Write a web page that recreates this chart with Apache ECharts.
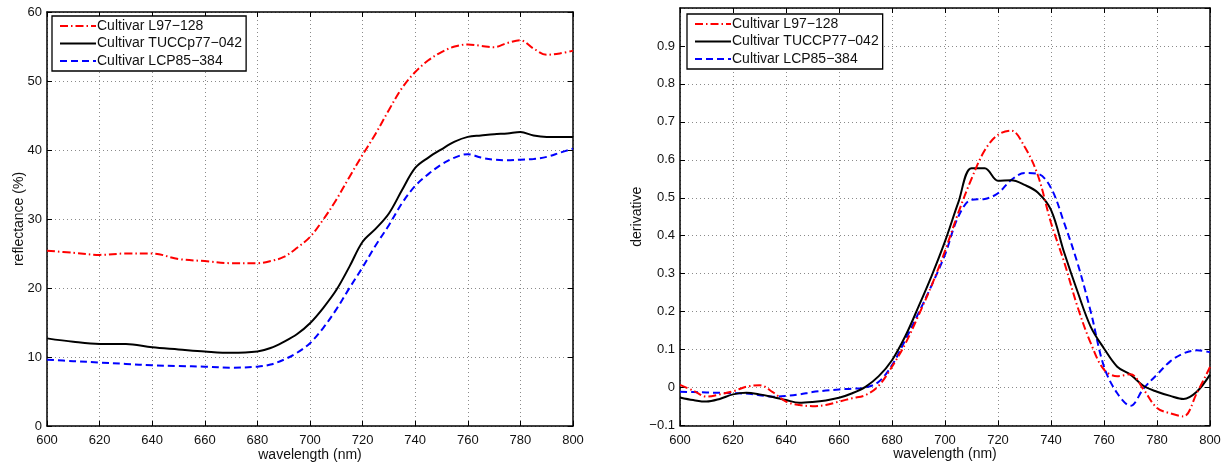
<!DOCTYPE html>
<html>
<head>
    <meta charset="utf-8">
    <title>Reflectance and derivative</title>
    <script src="https://cdn.jsdelivr.net/npm/echarts@6/dist/echarts.min.js"></script>
</head>
<body style="margin:0;background:#fff">
    <div id="main" style="width:1229px;height:465px;"></div>
    <script type="text/javascript">
        // wavelengths (nm)
        var wlLeft = [600, 610, 620, 630, 640, 650, 660, 670, 680,
            685, 690, 695, 700, 705, 710, 715, 720, 725, 730, 735, 740,
            745, 750, 755, 760, 765, 770, 775, 780, 785, 790, 795, 800];
        var wlRight = [];
        for (var w = 600; w <= 800; w += 5) wlRight.push(w);

        var names = ['Cultivar L97\u2212128', 'Cultivar TUCCp77\u2212042', 'Cultivar LCP85\u2212384'];
        var namesRight = ['Cultivar L97\u2212128', 'Cultivar TUCCP77\u2212042', 'Cultivar LCP85\u2212384'];

        // reflectance (%)
        var reflL97 = [25.4, 25.1, 24.8, 25.0, 25.0, 24.2, 23.9, 23.6, 23.6,
            23.9, 24.5, 25.8, 27.4, 29.9, 32.8, 36.1, 39.3, 42.4, 45.8, 49.0, 51.3,
            53.0, 54.2, 55.0, 55.3, 55.1, 54.9, 55.5, 55.9, 54.7, 53.8, 54.0, 54.4];
        var reflTUCC = [12.7, 12.2, 11.9, 11.9, 11.4, 11.1, 10.8, 10.6, 10.8,
            11.3, 12.2, 13.3, 14.9, 17.1, 19.7, 23.1, 26.7, 28.6, 30.8, 34.2, 37.4,
            38.9, 40.1, 41.2, 41.9, 42.1, 42.3, 42.4, 42.6, 42.1, 41.9, 41.9, 41.9];
        var reflLCP = [9.6, 9.4, 9.2, 9.0, 8.8, 8.7, 8.6, 8.45, 8.6,
            8.9, 9.6, 10.6, 12.0, 14.2, 16.9, 20.0, 23.0, 26.2, 29.1, 32.3, 34.8,
            36.5, 37.9, 38.9, 39.4, 38.9, 38.6, 38.5, 38.6, 38.7, 39.0, 39.6, 40.2];

        // first derivative
        var derL97 = [0.007, -0.008, -0.024, -0.018, -0.010, 0.002, 0.006, -0.012, -0.037, -0.046,
            -0.049, -0.046, -0.037, -0.028, -0.020, 0.005, 0.055, 0.115, 0.190, 0.270,
            0.360, 0.460, 0.550, 0.625, 0.666, 0.677, 0.635, 0.560, 0.434, 0.330,
            0.213, 0.117, 0.047, 0.030, 0.035, -0.006, -0.054, -0.068, -0.076, -0.015, 0.054];
        var derTUCC = [-0.026, -0.033, -0.037, -0.030, -0.018, -0.014, -0.018, -0.025, -0.033, -0.040,
            -0.038, -0.034, -0.027, -0.015, 0.002, 0.030, 0.072, 0.135, 0.213, 0.295,
            0.385, 0.487, 0.578, 0.578, 0.545, 0.546, 0.534, 0.514, 0.468, 0.355,
            0.253, 0.160, 0.103, 0.055, 0.034, 0.004, -0.011, -0.022, -0.030, -0.011, 0.034];
        var derLCP = [-0.011, -0.012, -0.013, -0.014, -0.015, -0.016, -0.020, -0.024, -0.022, -0.018,
            -0.012, -0.008, -0.005, -0.003, 0.000, 0.015, 0.059, 0.125, 0.196, 0.270,
            0.350, 0.450, 0.495, 0.497, 0.512, 0.547, 0.565, 0.563, 0.526, 0.433,
            0.328, 0.200, 0.055, -0.015, -0.048, -0.002, 0.034, 0.069, 0.090, 0.098, 0.093];

        var leftTicks = [0, 10, 20, 30, 40, 50, 60];
        var rightTicks = [-0.1, 0, 0.1, 0.2, 0.3, 0.4, 0.5, 0.6, 0.7, 0.8, 0.9];

        function pairs(xs, ys) {
            return xs.map(function (x, i) { return [x, ys[i]]; });
        }

        var font = 'Liberation Sans, Arial, Helvetica, sans-serif';
        var colors = ['#ff0000', '#000000', '#0000ff'];
        var dashes = [[8, 3, 1.5, 3], 'solid', [7, 4]];

        function xAx(grid, top) {
            return {
                type: 'value', gridIndex: grid, min: 600, max: 800, interval: 20,
                position: top ? 'top' : 'bottom',
                name: top ? '' : 'wavelength (nm)', nameLocation: 'middle', nameGap: 22,
                nameMoveOverlap: false,
                nameTextStyle: { fontFamily: font, fontSize: 14, color: '#111' },
                axisLine: { show: true, onZero: false, lineStyle: { color: '#000', width: 1.5 } },
                axisTick: { show: true, inside: true, length: 5, lineStyle: { color: '#000' } },
                axisLabel: { show: !top, margin: 8, fontFamily: font, fontSize: 13, color: '#111' },
                splitLine: { show: !top, lineStyle: { color: '#8a8a8a', type: [1, 3], width: 1 } }
            };
        }

        function yAx(grid, right, opts) {
            return {
                type: 'value', gridIndex: grid, position: right ? 'right' : 'left',
                min: opts.min, max: opts.max, interval: opts.interval,
                name: right ? '' : opts.name, nameLocation: 'middle', nameGap: opts.nameGap,
                nameMoveOverlap: false,
                nameTextStyle: { fontFamily: font, fontSize: 14, color: '#111' },
                axisLine: { show: true, onZero: false, lineStyle: { color: '#000', width: 1.5 } },
                axisTick: { show: true, inside: true, length: 5, lineStyle: { color: '#000' } },
                axisLabel: {
                    show: !right, margin: 5, fontFamily: font, fontSize: 13, color: '#111',
                    showMaxLabel: opts.showMax, formatter: opts.fmt
                },
                splitLine: { show: !right, lineStyle: { color: '#8a8a8a', type: [1, 3], width: 1 } }
            };
        }

        function fmtDer(v) {
            var r = Math.round(v * 10) / 10;
            return String(r).replace('-', '\u2212');
        }

        var leftOpts = { min: leftTicks[0], max: leftTicks[leftTicks.length - 1], interval: 10,
            name: 'reflectance (%)', nameGap: 21, showMax: true, fmt: '{value}' };
        var rightOpts = { min: rightTicks[0], max: 1.0, interval: 0.1,
            name: 'derivative', nameGap: 36, showMax: false, fmt: fmtDer };

        function line(x, y, ax, i, legendName) {
            return {
                name: legendName, type: 'line', xAxisIndex: ax, yAxisIndex: ax,
                data: pairs(x, y), showSymbol: false, symbol: 'none', smooth: 0.35,
                lineStyle: { color: colors[i], width: 2, type: dashes[i] },
                itemStyle: { color: colors[i] },
                z: 10 - i, silent: true
            };
        }

        function legend(left, top, data) {
            return {
                left: left, top: top, orient: 'vertical', data: data,
                itemWidth: 36, itemHeight: 14, itemGap: 3.5,
                padding: [3, 4, 3, 7],
                itemStyle: { opacity: 0 },
                borderColor: '#000', borderWidth: 1.3, backgroundColor: '#fff',
                textStyle: { fontFamily: font, fontSize: 14, color: '#111', padding: [0, 0, 0, -4] },
                selectedMode: false
            };
        }

        var myChart = echarts.init(document.getElementById('main'));
        myChart.setOption({
            animation: false,
            grid: [
                { left: 47, top: 12, width: 526, height: 414, outerBoundsMode: 'none' },
                { left: 680, top: 8, width: 530, height: 417.5, outerBoundsMode: 'none' }
            ],
            legend: [
                legend(52, 16, names),
                legend(687, 14, namesRight)
            ],
            xAxis: [xAx(0, false), xAx(1, false), xAx(0, true), xAx(1, true)],
            yAxis: [yAx(0, false, leftOpts), yAx(1, false, rightOpts), yAx(0, true, leftOpts), yAx(1, true, rightOpts)],
            series: [
                line(wlLeft, reflL97, 0, 0, names[0]),
                line(wlLeft, reflTUCC, 0, 1, names[1]),
                line(wlLeft, reflLCP, 0, 2, names[2]),
                line(wlRight, derL97, 1, 0, namesRight[0]),
                line(wlRight, derTUCC, 1, 1, namesRight[1]),
                line(wlRight, derLCP, 1, 2, namesRight[2])
            ]
        });
    </script>
</body>
</html>
